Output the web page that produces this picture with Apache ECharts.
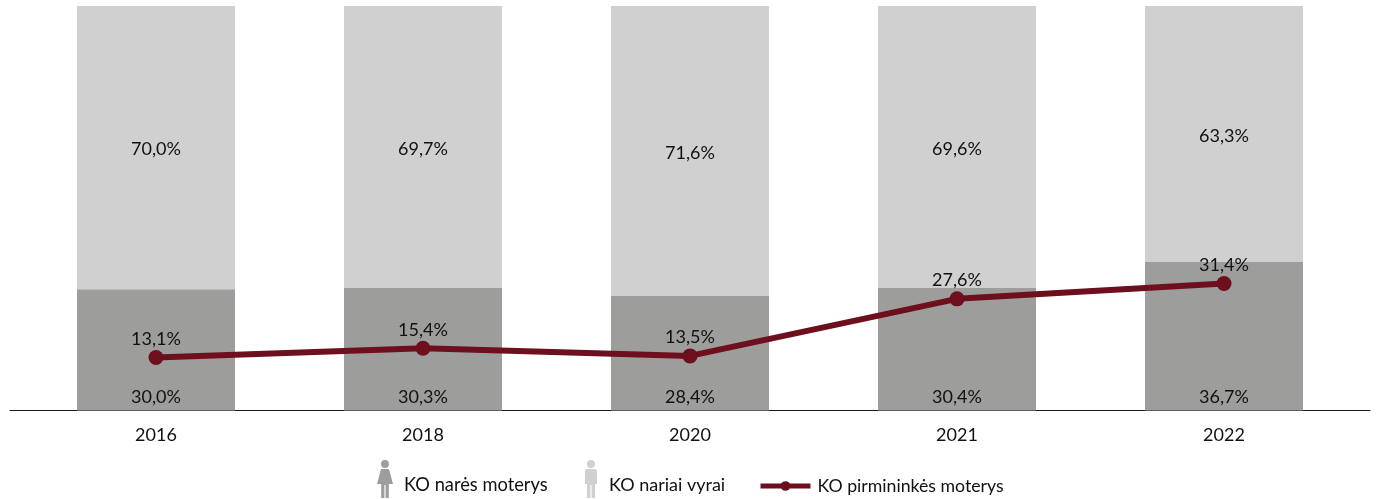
<!DOCTYPE html>
<html><head><meta charset="utf-8">
<style>html,body{margin:0;padding:0;background:#fff}#c{width:1376px;height:499px}</style>
<script src="https://cdn.jsdelivr.net/npm/echarts@6/dist/echarts.min.js"></script>
</head><body><div id="c"></div>
<script>
var categories = ['2016','2018','2020','2021','2022'];
var women = [30.0,30.3,28.4,30.4,36.7];
var men = [70.0,69.7,71.6,69.6,63.3];
var chairs = [13.1,15.4,13.5,27.6,31.4];
var womanIcon = 'path://M8 0a4 4 0 1 1-.01 0zM5.5 9h5c1 0 1.6.5 1.9 1.4L16 24H11.8V38H8.6V25H7.4V38H4.2V24H0L3.6 10.4C3.9 9.5 4.5 9 5.5 9zM8 50h.01v.01z';
var manIcon = 'path://M6 0a4 4 0 1 1-.01 0zM2.2 9h7.6c1.2 0 2.2 1 2.2 2.2V24h-2V38H6.6V25H5.4V38H2V24H0V11.2C0 10 1 9 2.2 9zM6 50h.01v.01z';
var font = 'Lato';
function fmt(p){return p.value.toFixed(1).replace('.',',')+'%';}
function leg(name,left,top,icon,w,h,padL,size,extra){return Object.assign({data:[{name:name,icon:icon}],left:left,top:top,itemWidth:w,itemHeight:h,itemGap:0,selectedMode:false,
  textStyle:{fontFamily:font,fontSize:size,color:'#111',padding:[0,0,0,padL]},padding:0},extra||{});}
var lab = {show:true,formatter:fmt,fontFamily:font,fontSize:18,color:'#111'};
echarts.init(document.getElementById('c'),null,{renderer:'canvas'}).setOption({
  animation:false,backgroundColor:'#fff',
  grid:[{left:22.5,right:18.5,top:6,bottom:88.5},{left:10,right:6,top:6,bottom:88.5}],
  xAxis:[
    {type:'category',data:categories,gridIndex:0,axisLine:{show:false},axisTick:{show:false},
     axisLabel:{fontFamily:font,fontSize:18,color:'#111',margin:16}},
    {type:'value',gridIndex:1,min:0,max:1,splitLine:{show:false},axisTick:{show:false},axisLabel:{show:false},
     axisLine:{show:true,onZero:false,lineStyle:{color:'#1a1a1a',width:1}}}
  ],
  yAxis:[{type:'value',gridIndex:0,min:0,max:100,show:false},{type:'value',gridIndex:1,min:0,max:100,show:false}],
  legend:[
    leg('KO narės moterys',377,460,womanIcon,16,50,6,18.3),
    leg('KO nariai vyrai',585,460,manIcon,12,50,7,18),
    leg('KO pirmininkės moterys',758,477,undefined,50,12,2,17.7,{lineStyle:{width:5}})
  ],
  series:[
    {name:'KO narės moterys',type:'bar',stack:'a',data:women,barWidth:158,itemStyle:{color:'#9d9d9c'},label:Object.assign({},lab,{position:'insideBottom',distance:4})},
    {name:'KO nariai vyrai',type:'bar',stack:'a',data:men,barWidth:158,itemStyle:{color:'#d0d0d0'},label:Object.assign({},lab,{position:'inside',offset:[0,2]})},
    {name:'KO pirmininkės moterys',type:'line',data:chairs,symbol:'circle',symbolSize:15,z:5,
     lineStyle:{color:'#6d0f1c',width:6},itemStyle:{color:'#6d0f1c'},label:Object.assign({},lab,{position:'top',distance:2})}
  ]
});
</script></body></html>
